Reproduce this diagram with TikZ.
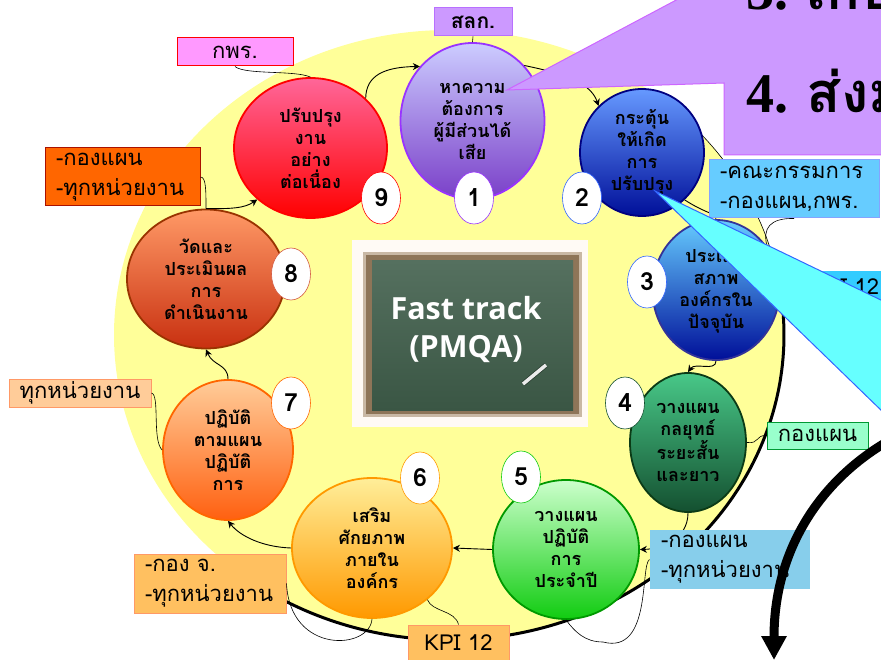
\documentclass[tikz,border=0pt]{standalone}
\usepackage{fontspec}
\usetikzlibrary{shapes.geometric,arrows.meta}
\newfontfamily\thaifont[Script=Thai]{Loma}
\newfontfamily\latinbold{Open Sans}
\newfontfamily\serifbig{Liberation Serif}
\definecolor{yel}{HTML}{FFFF99}
\definecolor{ca}{HTML}{CCCCFF}\definecolor{cb}{HTML}{7A3FC8}\definecolor{cc}{HTML}{9933FF}
\definecolor{da}{HTML}{6699FF}\definecolor{db}{HTML}{000F99}\definecolor{dc}{HTML}{000080}
\definecolor{ea}{HTML}{66CCFF}\definecolor{eb}{HTML}{000F99}\definecolor{ec}{HTML}{333399}
\definecolor{fa}{HTML}{48C888}\definecolor{fb}{HTML}{145030}\definecolor{fc}{HTML}{0B3B16}
\definecolor{ga}{HTML}{CCFFCC}\definecolor{gb}{HTML}{11CC11}\definecolor{gc}{HTML}{009900}
\definecolor{ha}{HTML}{FFEE99}\definecolor{hb}{HTML}{FF9900}\definecolor{hc}{HTML}{FF9900}
\definecolor{ia}{HTML}{FFCC99}\definecolor{ib}{HTML}{FF6010}\definecolor{ic}{HTML}{FF6600}
\definecolor{ja}{HTML}{FF9966}\definecolor{jb}{HTML}{C83010}\definecolor{jc}{HTML}{993300}
\definecolor{ka}{HTML}{FF6699}\definecolor{kb}{HTML}{FF0000}\definecolor{kc}{HTML}{FF0000}
\definecolor{purp}{HTML}{CC99FF}\definecolor{purpl}{HTML}{CC66FF}
\definecolor{cyn}{HTML}{66FFFF}\definecolor{cynl}{HTML}{3366FF}
\definecolor{tagp}{HTML}{FF99FF}\definecolor{tago}{HTML}{FF6600}\definecolor{tagob}{HTML}{AA1100}
\definecolor{tagk}{HTML}{33CCFF}\definecolor{tagg}{HTML}{99FFCC}\definecolor{taggb}{HTML}{009933}
\definecolor{tagb}{HTML}{87CEEB}\definecolor{tagy}{HTML}{FFC060}\definecolor{tagyb}{HTML}{FF9966}
\definecolor{tagl}{HTML}{FFCC99}
\definecolor{boardtop}{HTML}{55705F}\definecolor{boardbot}{HTML}{3A5644}
\definecolor{frameb}{HTML}{8E7558}\definecolor{framel}{HTML}{C9B8A4}
\tikzset{
  x=1pt,y=-1pt,
  stage/.style={ellipse,inner sep=0pt,line width=1.8pt,align=center,text=black,
    font=\thaifont\bfseries\fontsize{18}{22}\selectfont},
  badge/.style={ellipse,draw,fill=white,inner sep=0pt,minimum width=39pt,minimum height=52pt,line width=.6pt,
    font=\thaifont\bfseries\fontsize{25}{26}\selectfont},
  tag/.style={rectangle,inner sep=0pt,line width=1pt,font=\thaifont\fontsize{22}{30}\selectfont,align=center},
  tagleft/.style={tag,align=left,inner xsep=11pt},
  link/.style={line width=.9pt,-{Stealth[length=7pt,width=7pt]}},
  thinl/.style={line width=.6pt},
}
\begin{document}
\begin{tikzpicture}
\useasboundingbox (0,0) rectangle (881,660);
\begin{scope}
\clip (0,0) rectangle (881,660);
% yellow disc
\fill[yel] (449,335) ellipse [x radius=335,y radius=305];
\draw[line width=.6pt] plot[domain=-47:-15,samples=30] ({449+335*cos(\x)},{335+305*sin(\x)});
\draw[line width=3pt] plot[domain=-16:119,samples=120] ({449+335*cos(\x)},{335+305*sin(\x)});
\draw[line width=.3pt,gray] plot[domain=119:131,samples=20] ({449+335*cos(\x)},{335+305*sin(\x)});

% stages
\node[stage,draw=cc,top color=ca,bottom color=cb,minimum width=144pt,minimum height=156pt] (n1) at (472.5,121) {หาความ\\ต้องการ\\ผู้มีส่วนได้\\เสีย};
\node[stage,draw=dc,top color=da,bottom color=db,minimum width=124pt,minimum height=127pt] (n2) at (642,152.5) {กระตุ้น\\ให้เกิด\\การ\\ปรับปรุง};
\node[stage,draw=ec,top color=ea,bottom color=eb,minimum width=127pt,minimum height=140pt] (n3) at (716,290) {ประเมิน\\สภาพ\\องค์กรใน\\ปัจจุบัน};
\node[stage,draw=fc,top color=fa,bottom color=fb,minimum width=116pt,minimum height=139pt] (n4) at (688,442.5) {วางแผน\\กลยุทธ์\\ระยะสั้น\\และยาว};
\node[stage,draw=gc,top color=ga,bottom color=gb,minimum width=146pt,minimum height=139pt] (n5) at (566,549.5) {วางแผน\\ปฏิบัติ\\การ\\ประจำปี};
\node[stage,draw=hc,top color=ha,bottom color=hb,minimum width=160pt,minimum height=140pt] (n6) at (372,548) {เสริม\\ศักยภาพ\\ภายใน\\องค์กร};
\node[stage,draw=ic,top color=ia,bottom color=ib,minimum width=130pt,minimum height=140pt] (n7) at (228,450) {ปฏิบัติ\\ตามแผน\\ปฏิบัติ\\การ};
\node[stage,draw=jc,top color=ja,bottom color=jb,minimum width=158pt,minimum height=139pt] (n8) at (206,279) {วัดและ\\ประเมินผล\\การ\\ดำเนินงาน};
\node[stage,draw=kc,top color=ka,bottom color=kb,minimum width=153pt,minimum height=140pt] (n9) at (310.5,148) {ปรับปรุง\\งาน\\อย่าง\\ต่อเนื่อง};

% badges
\node[badge,draw=cc] (b1) at (474,198) {1};
\node[badge,draw=cynl] (b2) at (582,198) {2};
\node[badge,draw=cynl] (b3) at (647,282) {3};
\node[badge,draw=fb] (b4) at (625,403) {4};
\node[badge,draw=gb] (b5) at (521,477) {5};
\node[badge,draw=hb] (b6) at (420,478) {6};
\node[badge,draw=ic] (b7) at (291,403) {7};
\node[badge,draw=jb!80!white] (b8) at (291,274) {8};
\node[badge,draw=kc] (b9) at (381,198) {9};

% cycle arrows
\draw[link] (n1.47) .. controls (555,72) and (590,80) .. (n2.133);
\draw[link] (n2.-48) .. controls (700,210) and (715,215) .. (n3.90);
\draw[link] (n3.270) .. controls (716,372) and (695,362) .. (n4.90);
\draw[link] (n4.270) .. controls (688,540) and (660,549) .. (n5.0);
\draw[link] (n5.180) -- (n6.0);
\draw[link] (n6.180) .. controls (262,547) and (240,536) .. (n7.270);
\draw[link] (n7.90) .. controls (228,364) and (213,366) .. (n8.270);
\draw[link] (n8.90) .. controls (232,209) and (245,208) .. (n9.224);
\draw[link] (n9.42) .. controls (366,75) and (385,67) .. (n1.134);

% tags
\node[tag,draw=cc!70!white,fill=purp,minimum width=78pt,minimum height=28pt,font=\thaifont\bfseries\fontsize{21}{30}\selectfont] (t1) at (473,22) {สลก.};
\node[tag,draw=red,fill=tagp,minimum width=116pt,minimum height=28pt] (t9) at (235,52) {กพร.};
\node[tagleft,draw=tagob,fill=tago,text width=133pt,minimum height=58pt] (t8) at (122.5,177) {-กองแผน\\-ทุกหน่วยงาน};
\node[tagleft,draw=cynl!60!white,fill=ea,text width=148pt,minimum height=58pt] (t2) at (794,189) {-คณะกรรมการ\\-กองแผน,กพร.};
\node[tag,fill=tagk,minimum width=110pt,minimum height=32pt] (t3) at (845,287) {KPI 12};
\node[tag,draw=taggb,fill=tagg,minimum width=101pt,minimum height=27pt] (t4) at (817.5,435.5) {กองแผน};
\node[tagleft,fill=tagb,text width=138pt,minimum height=59pt] (t5) at (730,559.5) {-กองแผน\\-ทุกหน่วยงาน};
\node[tag,draw=tagyb,fill=tagy,minimum width=101pt,minimum height=36pt] (t6b) at (458.5,643) {KPI 12};
\node[tagleft,draw=tagyb,fill=tagy,text width=130pt,minimum height=59pt] (t6) at (210,583.5) {-กอง จ.\\-ทุกหน่วยงาน};
\node[tag,draw=tagyb,fill=tagl,minimum width=142pt,minimum height=28pt] (t7) at (80,393) {ทุกหน่วยงาน};

% tag links
\draw[thinl] (t1.south) -- (n1.north);
\draw[thinl] (t9.south) .. controls (245,75) and (295,70) .. (n9.north);
\draw[thinl] (t8.east) .. controls (206,177) and (206,190) .. (n8.north);
\draw[thinl] (t2.south) .. controls (770,218) and (762,228) .. (n3.40);
\draw[thinl] (t4.west) .. controls (755,435) and (760,444) .. (n4.0);
\draw[thinl] (t5.west) .. controls (640,565) and (652,655) .. (603,642) .. controls (585,642) and (575,632) .. (n5.270);
\draw[thinl] (t7.east) .. controls (160,395) and (152,440) .. (n7.180);
\draw[thinl] (t6.east) .. controls (290,655) and (370,650) .. (n6.270);
\draw[thinl] (n6.-43) .. controls (432,612) and (455,610) .. (t6b.north);

% callouts
\fill[purp] (507,90) -- (680,-2) -- (885,-2) -- (885,155) -- (724,155) -- (724,83) -- cycle;
\draw[purpl,line width=1pt] (680,-2) -- (507,90) -- (724,83) -- (724,155) -- (885,155);
\node[anchor=base west,inner sep=0pt,font=\serifbig\bfseries\fontsize{56}{60}\selectfont] (q3) at (746,10) {3. {\thaifont เก็บ}};
\node[anchor=base west,inner sep=0pt,font=\serifbig\bfseries\fontsize{56}{60}\selectfont] (q4) at (746,113) {4. {\thaifont ส่งม}};
\fill[cyn] (655,191) -- (885,302) -- (885,414) -- cycle;
\draw[cynl,line width=1pt] (885,302) -- (655,191) -- (885,414);

% blackboard
\node[rectangle,fill=orange!4!white,minimum width=236pt,minimum height=187pt,inner sep=0pt] (pic) at (470,333.5) {};
\node[rectangle,fill=frameb,draw=framel,line width=2.5pt,minimum width=216pt,minimum height=162pt,inner sep=0pt] (fr) at (472.5,334.5) {};
\node[rectangle,top color=boardtop,bottom color=boardbot,minimum width=201pt,minimum height=149pt,inner sep=0pt] (bd) at (472.5,335.5) {};
\node[text=white,font=\latinbold\bfseries\fontsize{30.5}{38}\selectfont,align=center,inner sep=0pt] (ft) at (466,330) {Fast track\\(PMQA)};
\coordinate (ch1) at (523,384);\coordinate (ch2) at (546,365);
\draw[boardbot!70!black,line width=5pt] (ch1) -- (ch2);
\draw[white!85!gray,line width=3.5pt] (ch1) -- (ch2);

% thick arrow
\coordinate (ta) at (890,440);\coordinate (tb) at (774,660);
\draw[line width=9pt,-{Triangle[length=24pt,width=24pt]}] (ta) .. controls (820,480) and (774,550) .. (tb);
\end{scope}
\end{tikzpicture}
\end{document}
